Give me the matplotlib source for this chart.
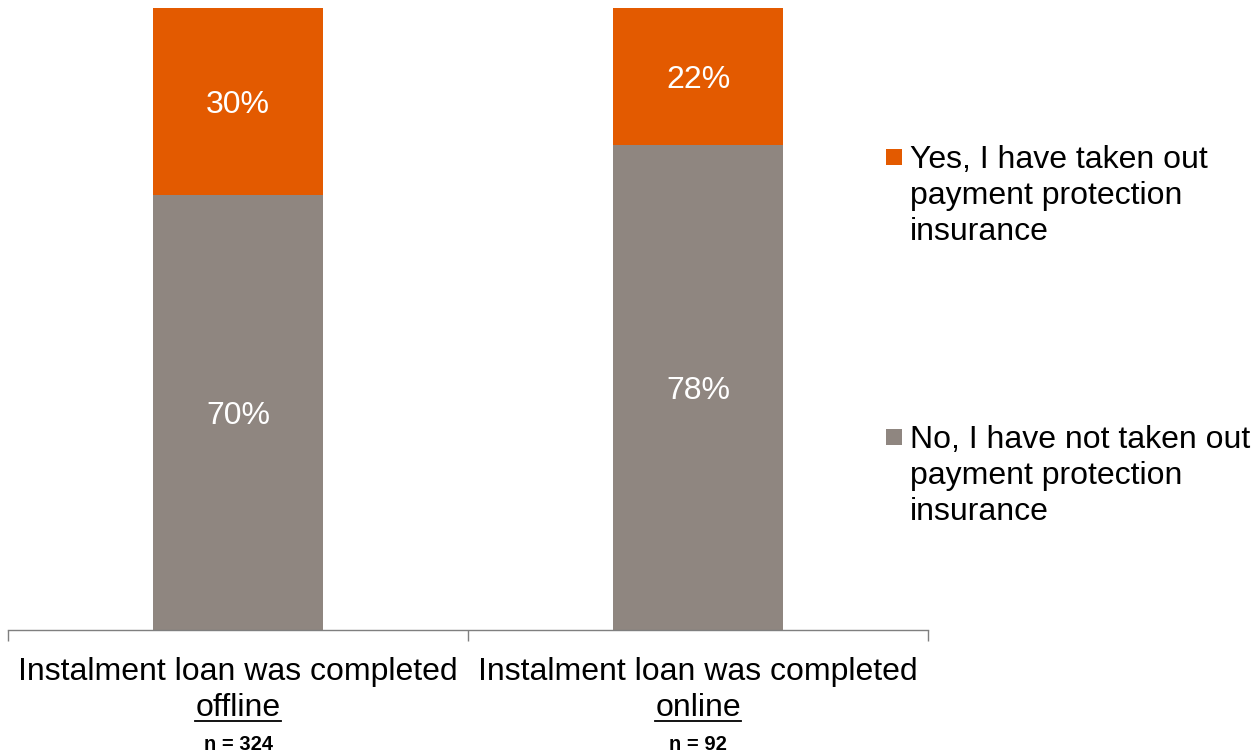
import matplotlib
matplotlib.use("Agg")
import matplotlib.pyplot as plt
from matplotlib.patches import Rectangle
from matplotlib.lines import Line2D

plt.rcParams['font.family'] = ['Liberation Sans', 'DejaVu Sans']

categories_line1 = ["Instalment loan was completed", "Instalment loan was completed"]
categories_line2 = ["offline", "online"]
sample_sizes = ["n = 324", "n = 92"]
no_values = [70, 78]
yes_values = [30, 22]
series_labels = [["Yes, I have taken out", "payment protection", "insurance"],
                 ["No, I have not taken out", "payment protection", "insurance"]]
color_yes = "#E35A00"
color_no = "#8F8680"

W, H = 1252, 753
FS = 23
DY = 4  # px shift to centre glyphs like the reference
fig = plt.figure(figsize=(W / 100, H / 100), dpi=100)
ax = fig.add_axes([8 / W, 1 - 630 / H, 920 / W, 622 / H])

x = list(range(len(categories_line1)))
width = 170 / 460
ax.bar(x, no_values, width=width, color=color_no)
ax.bar(x, yes_values, width=width, bottom=no_values, color=color_yes)

for i in x:
    ax.annotate(f"{no_values[i]}%", (i, no_values[i] / 2), xytext=(0, -DY * 0.72),
                textcoords='offset points', ha='center', va='center',
                color='white', fontsize=FS)
    ax.annotate(f"{yes_values[i]}%", (i, no_values[i] + yes_values[i] / 2),
                xytext=(0, -DY * 0.72), textcoords='offset points', ha='center',
                va='center', color='white', fontsize=FS)

ax.set_xlim(-0.5, len(x) - 0.5)
ax.set_ylim(0, 100)
for s in ['top', 'right', 'left']:
    ax.spines[s].set_visible(False)
ax.spines['bottom'].set_color('#7f7f7f')
ax.spines['bottom'].set_linewidth(1)
ax.set_yticks([])
ax.set_xticks([])
ax.set_xticks([-0.5, 0.5, 1.5], minor=True)
ax.tick_params(axis='x', which='minor', length=8, color='#7f7f7f', width=1,
               labelbottom=False)

# category labels
fig.canvas.draw()
renderer = fig.canvas.get_renderer()
for i in x:
    xf = ax.transData.transform((i, 0))[0] / W
    fig.text(xf, 1 - (669 + 3) / H, categories_line1[i], ha='center', va='center',
             fontsize=FS)
    t = fig.text(xf, 1 - (705 + 3) / H, categories_line2[i], ha='center',
                 va='center', fontsize=FS)
    bb = t.get_window_extent(renderer=renderer)
    yline = (H - 721) / H
    fig.add_artist(Line2D([bb.x0 / W, bb.x1 / W], [yline, yline], color='black',
                          linewidth=1.3, transform=fig.transFigure))
    fig.text(xf, 1 - (743 + 1) / H, sample_sizes[i], ha='center', va='center',
             fontsize=14.5, fontweight='bold')

# legend (manual, handle aligned with first line)
legend_colors = [color_yes, color_no]
legend_tops = [157, 437]
for lines, col, y0 in zip(series_labels, legend_colors, legend_tops):
    fig.add_artist(Rectangle((886 / W, 1 - (y0 + 8) / H), 16 / W, 16 / H,
                             transform=fig.transFigure, color=col, linewidth=0))
    for k, line in enumerate(lines):
        fig.text(910 / W, 1 - (y0 + 3 + 36 * k) / H, line, ha='left', va='center',
                 fontsize=FS)

fig.savefig("out.png", dpi=100)
